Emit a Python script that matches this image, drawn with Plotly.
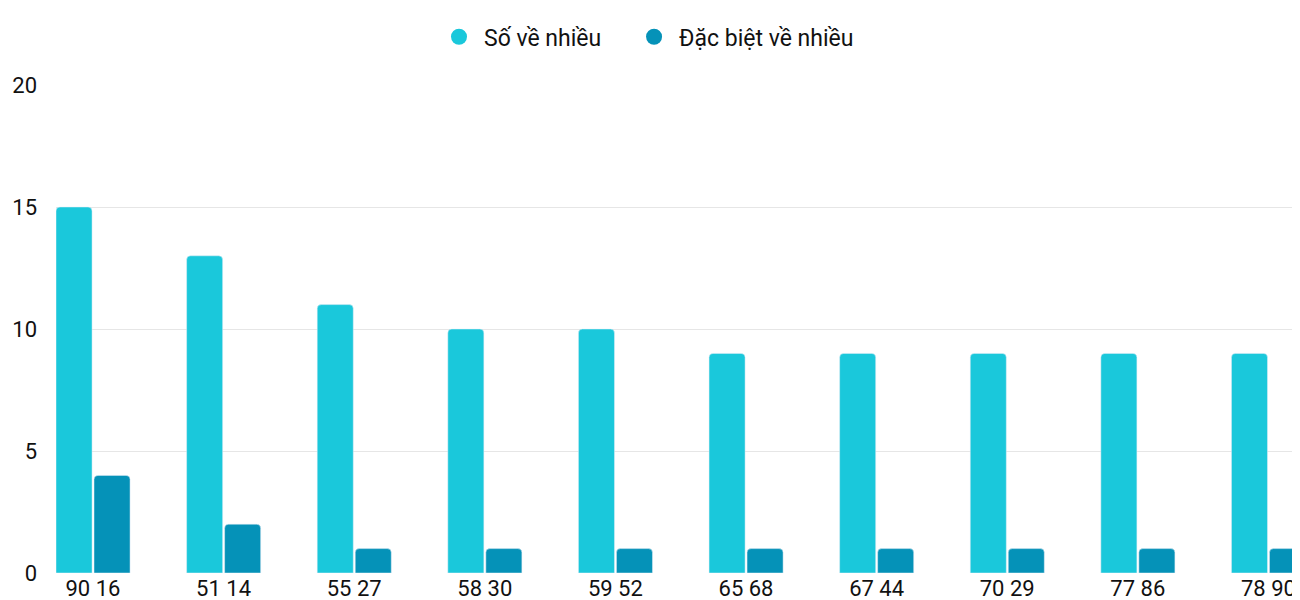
import plotly.graph_objects as go

pairs = ["90 16", "51 14", "55 27", "58 30", "59 52", "65 68", "67 44", "70 29", "77 86", "78 90"]
so_ve_nhieu = [15, 13, 11, 10, 10, 9, 9, 9, 9, 9]
dac_biet = [4, 2, 1, 1, 1, 1, 1, 1, 1, 1]
c1, c2 = "#1ac8db", "#0592b8"

fig = go.Figure()
fig.add_bar(x=pairs, y=so_ve_nhieu, marker_color=c1, width=0.276, offset=-0.283, showlegend=False)
fig.add_bar(x=pairs, y=dac_biet, marker_color=c2, width=0.276, offset=0.008, showlegend=False)
for name, c in [("Số về nhiều", c1), ("Đặc biệt về nhiều", c2)]:
    fig.add_scatter(x=[None], y=[None], mode="markers", name=name + "    ",
                    marker=dict(color=c, size=28, symbol="circle"))
fig.update_layout(
    width=1300, height=600, plot_bgcolor="white", paper_bgcolor="white",
    margin=dict(l=48, r=0, t=77, b=35, autoexpand=False), barcornerradius=4,
    font=dict(family="Roboto", size=22, color="#111"),
    legend=dict(orientation="h", x=0.5, xanchor="center", xref="container",
                y=0.952, yanchor="middle", yref="container",
                font=dict(size=23), itemwidth=40),
    xaxis=dict(range=[-0.283, 9.303], showgrid=False, ticks="", showline=False, automargin=False),
    yaxis=dict(range=[0, 20], dtick=5, gridcolor="#e6e6e6", zeroline=False, ticks="",
               ticklabelstandoff=18, automargin=False),
)
fig.write_html("out.html")
